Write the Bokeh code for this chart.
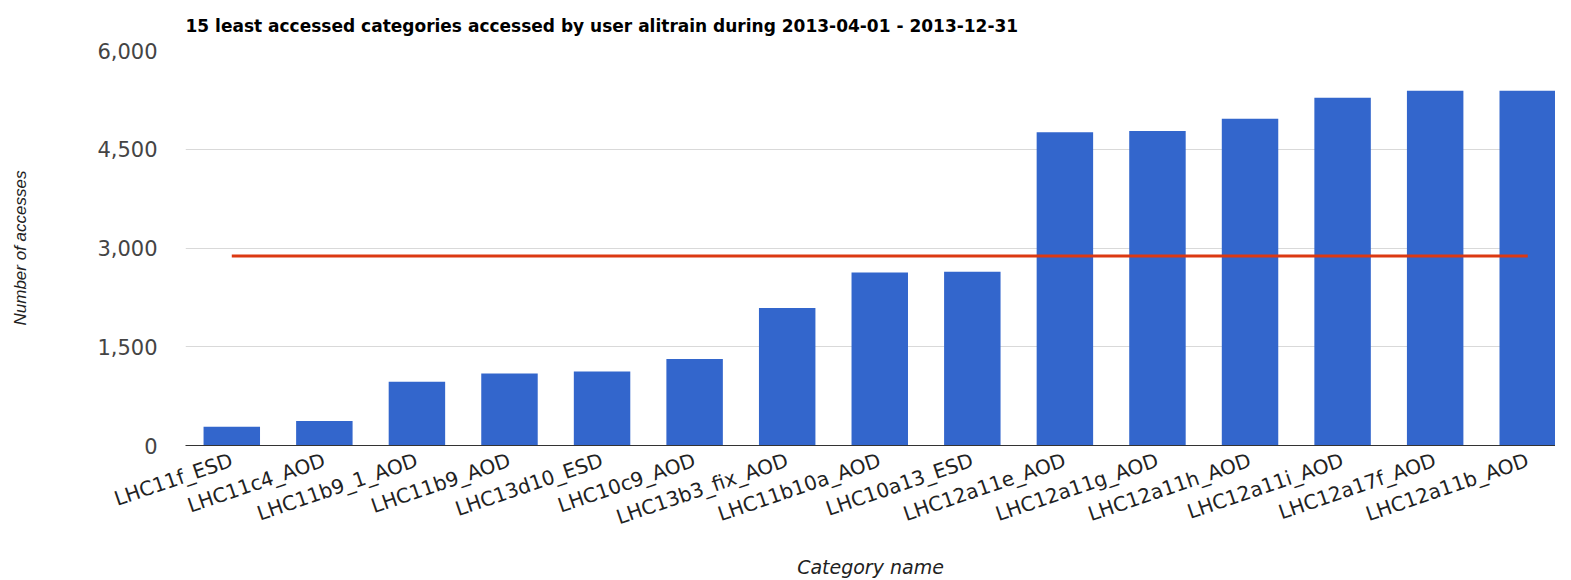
import numpy as np
from bokeh.plotting import figure
from bokeh.models import ColumnDataSource, Range1d, FixedTicker, NumeralTickFormatter
from bokeh.embed import file_html
from bokeh.resources import INLINE

categories = ["LHC11f_ESD", "LHC11c4_AOD", "LHC11b9_1_AOD", "LHC11b9_AOD", "LHC13d10_ESD",
              "LHC10c9_AOD", "LHC13b3_fix_AOD", "LHC11b10a_AOD", "LHC10a13_ESD", "LHC12a11e_AOD",
              "LHC12a11g_AOD", "LHC12a11h_AOD", "LHC12a11i_AOD", "LHC12a17f_AOD", "LHC12a11b_AOD"]
accesses = [283, 374, 968, 1095, 1125, 1315, 2089, 2626, 2641, 4757, 4779, 4962, 5282, 5388, 5388]
average = [2880]
y_ticks = [0, 1500, 3000, 4500, 6000]

xpos = np.arange(len(categories)) + 0.5
src = ColumnDataSource(dict(x=xpos, top=accesses, name=categories))

p = figure(width=1555, height=580, output_backend="svg", toolbar_location=None,
           x_range=Range1d(0, 14.8), y_range=Range1d(0, 6000),
           min_border_left=185, min_border_right=0, min_border_top=50, min_border_bottom=128)

p.title.text = "15 least accessed categories accessed by user alitrain during 2013-04-01 - 2013-12-31"
p.title.text_font = "DejaVu Sans"
p.title.text_font_style = "bold"
p.title.text_font_size = "17px"
p.title.text_color = "#000000"
p.title.align = "left"
p.title.vertical_align = "top"
p.title.standoff = 26

p.vbar(x="x", top="top", width=0.61, bottom=0, source=src, fill_color="#3366cc", line_color=None)
p.line(x=[xpos[0], xpos[-1]], y=[average[0], average[0]], line_color="#dc3912", line_width=3)

p.outline_line_color = None
p.xgrid.grid_line_color = None
p.ygrid.grid_line_color = "#d9d9d9"
p.ygrid.grid_line_width = 1
p.ygrid.ticker = FixedTicker(ticks=y_ticks)

ya = p.yaxis[0]
ya.ticker = FixedTicker(ticks=y_ticks)
ya.formatter = NumeralTickFormatter(format="0,0")
ya.axis_line_color = None
ya.major_tick_line_color = None
ya.minor_tick_line_color = None
ya.major_label_text_font = "DejaVu Sans"
ya.major_label_text_font_size = "21px"
ya.major_label_text_color = "#444444"
ya.major_label_standoff = 22
ya.axis_label = "Number of accesses"
ya.axis_label_text_font = "Liberation Sans"
ya.axis_label_text_font_style = "italic"
ya.axis_label_text_font_size = "17px"
ya.axis_label_text_color = "#222222"
ya.axis_label_standoff = 64

xa = p.xaxis[0]
xa.ticker = FixedTicker(ticks=list(xpos))
xa.major_label_overrides = {float(x): c for x, c in zip(xpos, categories)}
xa.axis_line_color = "#333333"
xa.axis_line_width = 1
xa.major_tick_line_color = None
xa.minor_tick_line_color = None
xa.major_label_orientation = 0.33
xa.major_label_text_font = "DejaVu Sans"
xa.major_label_text_font_size = "20px"
xa.major_label_text_color = "#222222"
xa.major_label_standoff = 8
xa.axis_label = "Category name"
xa.axis_label_text_font = "DejaVu Sans"
xa.axis_label_text_font_style = "italic"
xa.axis_label_text_font_size = "19px"
xa.axis_label_text_color = "#222222"
xa.axis_label_standoff = 12

open("out.html", "w").write(file_html(p, INLINE))
